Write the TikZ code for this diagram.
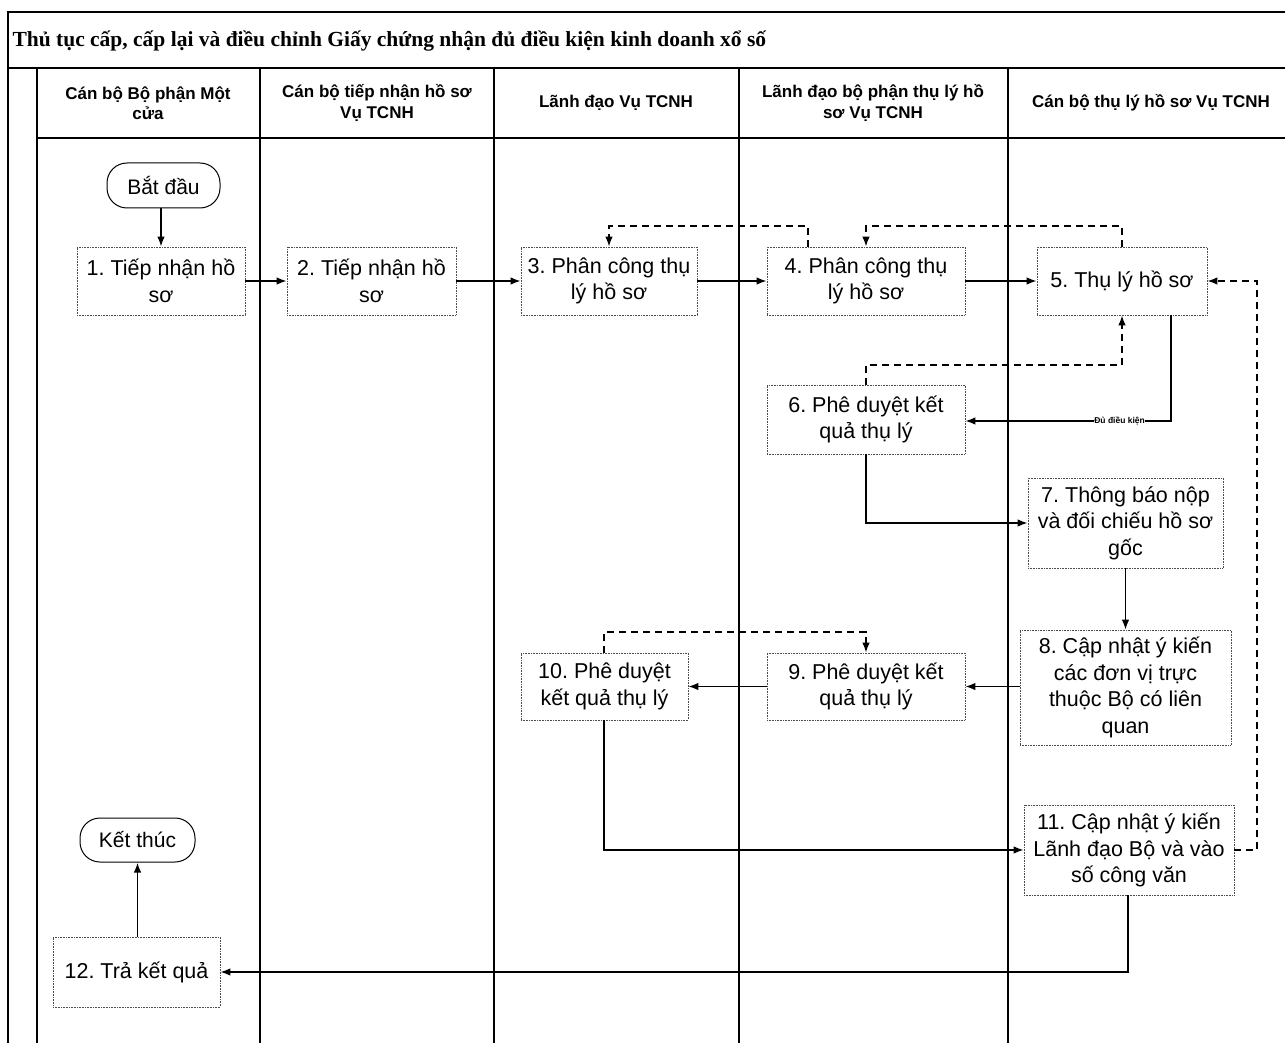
\documentclass[tikz,border=0pt]{standalone}
\usepackage{fontspec}
\setmainfont{Liberation Sans}
\newfontfamily\titlefont{Liberation Serif}
\usetikzlibrary{arrows.meta}
\begin{document}
\frenchspacing
\begin{tikzpicture}[x=1pt,y=-1pt,
  lane/.style={line width=1.6pt},
  stepbox/.style={draw=black!70,densely dotted,line width=0.6pt,inner sep=0pt,
    align=center,font=\fontsize{21.5}{26.5}\selectfont},
  term/.style={draw,line width=1pt,rounded corners=20pt,inner sep=0pt,
    font=\fontsize{21}{25}\selectfont},
  hdr/.style={align=center,font=\bfseries\fontsize{17}{20.5}\selectfont},
  flow/.style={line width=1.6pt,-{Latex[length=10pt,width=7.5pt]}},
  back/.style={line width=1.6pt,dash pattern=on 7pt off 5pt,-{Latex[length=10pt,width=7.5pt]}}]
\fill[white] (0,0) rectangle (1285,1043);
\useasboundingbox (0,0) rectangle (1285,1043);

% frame, title row and lane header row
\draw[lane] (8,1043) -- (8,12) -- (1285,12);
\draw[lane] (8,68) -- (1285,68);
\draw[lane] (37,138) -- (1285,138);
\foreach \lx in {37,260,494,739,1008} \draw[lane] (\lx,68) -- (\lx,1043);

\node[anchor=west,font=\titlefont\bfseries\fontsize{21.5}{25}\selectfont] (title) at (9,41)
  {Thủ tục cấp, cấp lại và điều chỉnh Giấy chứng nhận đủ điều kiện kinh doanh xổ số};

\node[hdr] (h1) at (148,103) {Cán bộ Bộ phận Một\\cửa};
\node[hdr] (h2) at (377,103) {Cán bộ tiếp nhận hồ sơ\\Vụ TCNH};
\node[hdr] (h3) at (616,103) {Lãnh đạo Vụ TCNH};
\node[hdr] (h4) at (873,103) {Lãnh đạo bộ phận thụ lý hồ\\sơ Vụ TCNH};
\node[hdr] (h5) at (1151,103) {Cán bộ thụ lý hồ sơ Vụ TCNH};

% terminals
\node[term,minimum width=113pt,minimum height=45pt] (start) at (163.5,185.5) {Bắt đầu};
\node[term,minimum width=115pt,minimum height=44pt] (end) at (137.5,840) {Kết thúc};

% process steps
\node[stepbox,minimum width=168pt,minimum height=68pt] (b1) at (161,281) {1. Tiếp nhận hồ\\sơ};
\node[stepbox,minimum width=169pt,minimum height=68pt] (b2) at (371.5,281) {2. Tiếp nhận hồ\\sơ};
\node[stepbox,minimum width=176pt,minimum height=68pt] (b3) at (609,281) {3. Phân công thụ\\lý hồ sơ};
\node[stepbox,minimum width=198pt,minimum height=68pt] (b4) at (866,281) {4. Phân công thụ\\lý hồ sơ};
\node[stepbox,minimum width=170pt,minimum height=68pt] (b5) at (1122,281) {5. Thụ lý hồ sơ};
\node[stepbox,minimum width=198pt,minimum height=69pt] (b6) at (866,419.5) {6. Phê duyệt kết\\quả thụ lý};
\node[stepbox,minimum width=195pt,minimum height=90pt] (b7) at (1125.5,523) {7. Thông báo nộp\\và đối chiếu hồ sơ\\gốc};
\node[stepbox,minimum width=211pt,minimum height=115pt] (b8) at (1125.5,687.5) {8. Cập nhật ý kiến\\các đơn vị trực\\thuộc Bộ có liên\\quan};
\node[stepbox,minimum width=198pt,minimum height=67pt] (b9) at (866,686.5) {9. Phê duyệt kết\\quả thụ lý};
\node[stepbox,minimum width=167pt,minimum height=67pt] (b10) at (604.5,686.5) {10. Phê duyệt\\kết quả thụ lý};
\node[stepbox,minimum width=210pt,minimum height=90pt] (b11) at (1129,850) {11. Cập nhật ý kiến\\Lãnh đạo Bộ và vào\\số công văn};
\node[stepbox,minimum width=167pt,minimum height=70pt] (b12) at (136.5,972) {12. Trả kết quả};

% turning points of the connectors
\coordinate (r4a) at (808,226);
\coordinate (r4b) at (609,226);
\coordinate (r5a) at (1122,226);
\coordinate (r5b) at (866,226);
\coordinate (r6a) at (866,365);
\coordinate (r6b) at (1122,365);
\coordinate (ok) at (1171,421);
\coordinate (r10) at (604,632);
\coordinate (r11) at (1257,850);
\coordinate (r11b) at (1257,281);

% main flow
\draw[flow] (start.south -| b1.north) -- (b1.north);
\draw[flow] (b1.east) -- (b2.west);
\draw[flow] (b2.east) -- (b3.west);
\draw[flow] (b3.east) -- (b4.west);
\draw[flow] (b4.east) -- (b5.west);
\draw[flow] (b5.south -| ok) -- (ok) -- (b6.east |- ok)
  node[pos=0.25,fill=white,inner sep=0.5pt,font=\bfseries\fontsize{8.5}{9}\selectfont] (oklabel) {Đủ điều kiện};
\draw[flow] (b6.south) |- (b7.west);
\draw[flow] (b7.south -| b8.north) -- (b8.north);
\draw[flow] (b8.west |- b9.east) -- (b9.east);
\draw[flow] (b9.west) -- (b10.east);
\draw[flow] (b10.south -| r10) |- (b11.west);
\draw[flow] (b11.south -| 1128,0) |- (b12.east);
\draw[flow] (b12.north -| end.south) -- (end.south);

% returns for revision
\draw[back] (b4.north -| r4a) -- (r4a) -- (r4b) -- (b3.north -| r4b);
\draw[back] (b5.north) -- (r5a) -- (r5b) -- (b4.north);
\draw[back] (b6.north) -- (r6a) -- (r6b) -- (b5.south);
\draw[back] (b10.north -| r10) -- (r10) -- (r10 -| b9.north) -- (b9.north);
\draw[back] (b11.east) -- (r11) -- (r11b) -- (b5.east);
\end{tikzpicture}
\end{document}
